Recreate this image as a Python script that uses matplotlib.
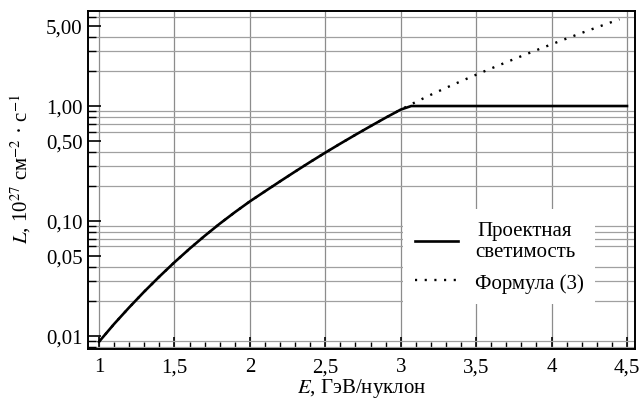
import matplotlib
matplotlib.use("Agg")
import matplotlib.pyplot as plt
from matplotlib.ticker import FixedLocator, LogLocator, NullFormatter, MultipleLocator

plt.rcParams['font.family'] = ['Liberation Serif', 'DejaVu Serif']
plt.rcParams['mathtext.fontset'] = 'stix'

# formula (3): luminosity vs energy
energy = [1.0, 1.1, 1.2, 1.3, 1.4, 1.5, 1.6, 1.7, 1.8, 1.9,
          2.0, 2.1, 2.2, 2.3, 2.4, 2.5, 2.6, 2.7, 2.8, 2.9,
          3.0, 3.1, 3.2, 3.3, 3.4, 3.5, 3.6, 3.7, 3.8, 3.9,
          4.0, 4.1, 4.2, 4.3, 4.4, 4.45]
lum_formula = [0.0089, 0.0127, 0.0177, 0.0243, 0.0328, 0.0437, 0.0573, 0.0741, 0.0946, 0.119,
               0.148, 0.181, 0.221, 0.269, 0.326, 0.393, 0.471, 0.562, 0.668, 0.791,
               0.931, 1.084, 1.253, 1.439, 1.644, 1.871, 2.123, 2.404, 2.716, 3.062,
               3.443, 3.864, 4.325, 4.831, 5.383, 5.675]

# design luminosity: follows the formula, then capped at 1.0
energy_design = [1.0, 1.1, 1.2, 1.3, 1.4, 1.5, 1.6, 1.7, 1.8, 1.9,
                 2.0, 2.1, 2.2, 2.3, 2.4, 2.5, 2.6, 2.7, 2.8, 2.9,
                 3.0, 3.07, 4.5]
lum_design = [0.0089, 0.0127, 0.0177, 0.0243, 0.0328, 0.0437, 0.0573, 0.0741, 0.0946, 0.119,
              0.148, 0.181, 0.221, 0.269, 0.326, 0.393, 0.471, 0.562, 0.668, 0.791,
              0.931, 1.0, 1.0]

x_ticks = [1, 1.5, 2, 2.5, 3, 3.5, 4, 4.5]
x_labels = ["1", "1,5", "2", "2,5", "3", "3,5", "4", "4,5"]
y_ticks = [0.01, 0.05, 0.1, 0.5, 1.0, 5.0]
y_labels = ["0,01", "0,05", "0,10", "0,50", "1,00", "5,00"]

fig = plt.figure(figsize=(6.39, 4.02), dpi=100)
ax = fig.add_axes([0.1377, 0.1294, 0.856, 0.8406])

ax.set_yscale('log')
ax.set_xlim(0.927, 4.553)
ax.set_ylim(0.0077, 6.7)

ax.plot(energy_design, lum_design, color='black', lw=1.9, label="Проектная\nсветимость", zorder=3)
ax.plot(energy, lum_formula, color='black', lw=1.7, dashes=(0.9, 3.2),
        label="Формула (3)", zorder=3)

ax.xaxis.set_major_locator(FixedLocator(x_ticks))
ax.set_xticklabels(x_labels)
ax.xaxis.set_minor_locator(MultipleLocator(0.1))
ax.yaxis.set_major_locator(FixedLocator(y_ticks))
ax.set_yticklabels(y_labels)
ax.yaxis.set_minor_locator(LogLocator(base=10, subs=range(1, 10)))
ax.yaxis.set_minor_formatter(NullFormatter())

ax.tick_params(axis='both', which='both', direction='in', labelsize=15, colors='black')
ax.tick_params(axis='x', which='major', length=9, width=1.2, pad=6)
ax.tick_params(axis='x', which='minor', length=5, width=1.0)
ax.tick_params(axis='y', which='major', length=9, width=1.2, pad=4)
ax.tick_params(axis='y', which='minor', length=6, width=1.0)

ax.grid(True, axis='x', which='major', color='#8c8c8c', lw=0.9)
ax.grid(True, axis='y', which='minor', color='#a0a0a0', lw=0.9)
ax.set_axisbelow(True)

for s in ax.spines.values():
    s.set_linewidth(1.4)

ax.set_xlabel(r"$E$, ГэВ/нуклон", fontsize=15, labelpad=0)
ax.set_ylabel(r"$L$, 10$^{27}$ см$^{-2}$ · с$^{-1}$", fontsize=15)
ax.yaxis.set_label_coords(-0.1, 0.535)

leg = ax.legend(loc='upper left', bbox_to_anchor=(0.576, 0.414), fontsize=15,
                frameon=True, fancybox=False, handlelength=2.1, handletextpad=0.8,
                borderpad=0.55, labelspacing=0.55, borderaxespad=0)
leg.get_frame().set_facecolor('white')
leg.get_frame().set_edgecolor('none')
leg.get_frame().set_alpha(1)
for t in leg.get_texts():
    t.set_multialignment('center')

fig.savefig("out.png", dpi=100)
